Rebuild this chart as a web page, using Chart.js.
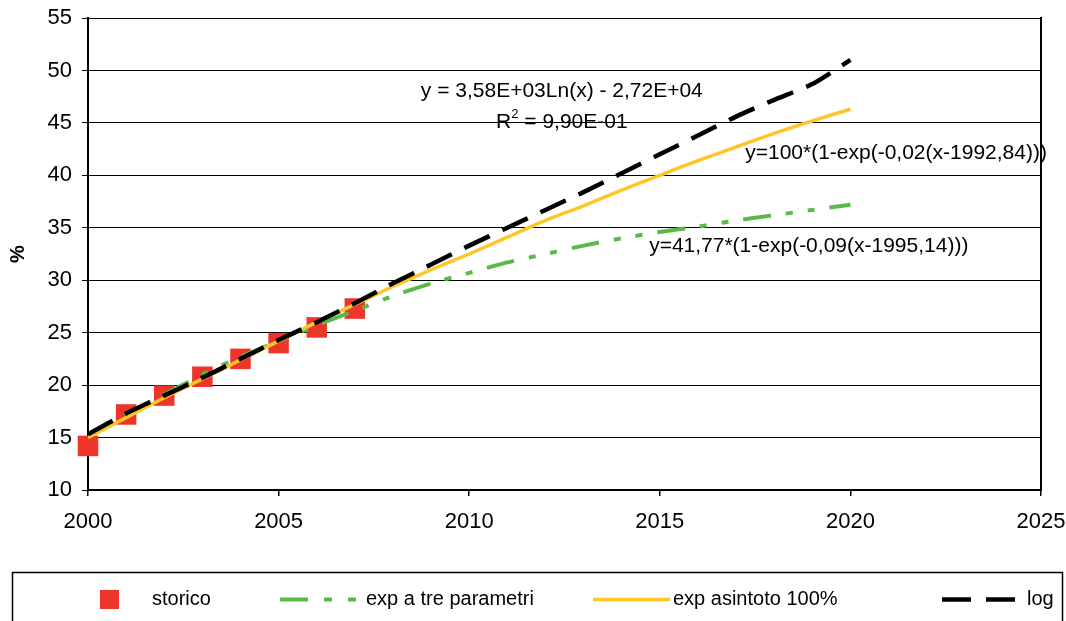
<!DOCTYPE html>
<html><head><meta charset="utf-8">
<script src="https://cdn.jsdelivr.net/npm/chart.js@4"></script>
<style>html,body{margin:0;padding:0;background:#fff}#wrap{width:1066px;height:621px;position:relative}</style>
</head><body><div id="wrap"><canvas id="c" width="1066" height="621"></canvas></div>
<script>
const years = [2000,2001,2002,2003,2004,2005,2006,2007,2008,2009,2010,2011,2012,2013,2014,2015,2016,2017,2018,2019,2020];
const storicoYears = [2000,2001,2002,2003,2004,2005,2006,2007];
const storico = [14.2,17.2,19.0,20.8,22.5,24.0,25.5,27.3];
const expTre = [15.0,17.2,19.1,21.0,22.7,24.2,25.7,27.1,28.5,29.7,30.7,31.7,32.5,33.3,34.0,34.6,35.1,35.7,36.2,36.7,37.2];
const expAsintoto = [15.0,16.9,18.8,20.6,22.4,24.2,26.0,27.7,29.4,31.0,32.5,34.1,35.7,37.1,38.6,40.0,41.4,42.7,44.0,45.2,46.3];
const logFit = [15.3,17.3,19.0,20.7,22.5,24.3,26.0,27.8,29.7,31.5,33.3,35.0,36.7,38.4,40.2,42.0,43.8,45.6,47.2,48.7,51.0];
const xTicks = [2000,2005,2010,2015,2020,2025];
const yTicks = [10,15,20,25,30,35,40,45,50,55];
const legendLabels = ["storico","exp a tre parametri","exp asintoto 100%","log"];
const annotations = [
  {text:"y = 3,58E+03Ln(x) - 2,72E+04", x:2012.43, y:48.0, align:"center"},
  {text:"R2 = 9,90E-01", x:2012.43, y:45.1, align:"center", sup:true},
  {text:"y=100*(1-exp(-0,02(x-1992,84)))", x:2017.24, y:42.1, align:"left"},
  {text:"y=41,77*(1-exp(-0,09(x-1995,14)))", x:2014.72, y:33.2, align:"left"}
];
const FONT = "'Liberation Sans', Arial, sans-serif";
const pts = (xs, ys) => xs.map((x,i)=>({x:x,y:ys[i]}));

const legendPlugin = {
  id:'customLegend',
  afterDraw(chart){
    const ctx = chart.ctx;
    ctx.save();
    ctx.strokeStyle = '#000'; ctx.lineWidth = 1.5;
    ctx.strokeRect(12.5, 572.5, 1050, 70);
    const cy = 599.5;
    ctx.font = "20px " + FONT; ctx.fillStyle = '#000'; ctx.textBaseline = 'middle'; ctx.textAlign='left';
    const ds = chart.data.datasets;
    ctx.fillStyle = ds[0].backgroundColor; ctx.fillRect(100, 590, 19, 19);
    ctx.fillStyle = '#000'; ctx.fillText(legendLabels[0], 152, cy);
    const line = (x1,x2,d,dash) => {ctx.beginPath(); ctx.strokeStyle=d.borderColor; ctx.lineWidth=d.borderWidth; ctx.setLineDash(dash||[]); ctx.moveTo(x1,cy); ctx.lineTo(x2,cy); ctx.stroke(); ctx.setLineDash([]);};
    line(280, 357, ds[1], [28,16,8,16,8,16]);
    ctx.fillText(legendLabels[1], 366, cy);
    line(593, 670, ds[2]);
    ctx.fillText(legendLabels[2], 673, cy);
    line(942, 1016, ds[3], [29,15]);
    ctx.fillText(legendLabels[3], 1027, cy);
    ctx.restore();
  }
};
const annPlugin = {
  id:'ann',
  afterDraw(chart){
    const ctx = chart.ctx, xs = chart.scales.x, ys = chart.scales.y;
    const F = "21px " + FONT, FS = "13px " + FONT;
    ctx.save(); ctx.font = F; ctx.fillStyle='#000'; ctx.textBaseline='middle';
    annotations.forEach(a=>{
      const px = xs.getPixelForValue(a.x), py = ys.getPixelForValue(a.y);
      if (a.sup){
        const rest = a.text.slice(2);
        ctx.font = F; const wR = ctx.measureText("R").width, wRest = ctx.measureText(rest).width;
        ctx.font = FS; const w2 = ctx.measureText("2").width;
        const total = wR + w2 + wRest; let x0 = px - total/2;
        ctx.textAlign='left';
        ctx.font = F; ctx.fillText("R", x0, py);
        ctx.font = FS; ctx.fillText("2", x0+wR, py-7);
        ctx.font = F; ctx.fillText(rest, x0+wR+w2, py);
      } else {
        ctx.font = F; ctx.textAlign = a.align; ctx.fillText(a.text, px, py);
      }
    });
    ctx.restore();
  }
};
const noPad = s => { s.paddingTop = 0; s.paddingBottom = 0; s.paddingLeft = 0; s.paddingRight = 0; };

new Chart(document.getElementById('c'), {
  type:'line',
  data:{datasets:[
    {label:legendLabels[0], data:pts(storicoYears, storico), showLine:false, pointStyle:'rect', pointRadius:14.5, pointHoverRadius:14.5, backgroundColor:'#EE3529', borderColor:'#EE3529', borderWidth:0, order:4, clip:false},
    {label:legendLabels[1], data:pts(years, expTre), borderColor:'#5CB848', borderWidth:4, borderDash:[28,15,7,15,7,15], pointRadius:0, tension:0.2, fill:false, order:3},
    {label:legendLabels[2], data:pts(years, expAsintoto), borderColor:'#FFC629', borderWidth:3.5, pointRadius:0, tension:0.2, fill:false, order:2},
    {label:legendLabels[3], data:pts(years, logFit), borderColor:'#000', borderWidth:4.5, borderDash:[28,14], pointRadius:0, tension:0.2, fill:false, order:1}
  ]},
  options:{
    responsive:false, animation:false, events:[],
    layout:{padding:{top:18,right:25,left:0,bottom:0}},
    plugins:{legend:{display:false}, tooltip:{enabled:false}},
    scales:{
      x:{type:'linear', min:2000, max:2025,
        afterFit(s){ s.height = 131; noPad(s); },
        afterBuildTicks(s){ s.ticks = xTicks.map(v=>({value:v})); },
        ticks:{callback:v=>String(v), font:{size:22, family:FONT}, color:'#000', padding:13, maxRotation:0},
        grid:{drawOnChartArea:false, drawTicks:true, tickLength:6, color:'#000', lineWidth:1.5},
        border:{display:true, color:'#000', width:2}
      },
      y:{min:10, max:55,
        afterFit(s){ s.width = 88; noPad(s); },
        afterBuildTicks(s){ s.ticks = yTicks.map(v=>({value:v})); },
        ticks:{font:{size:22, family:FONT}, color:'#000', padding:10},
        grid:{color:'#000', lineWidth:1, tickLength:6},
        border:{display:true, color:'#000', width:2},
        title:{display:true, text:'%', font:{size:20, weight:'bold', family:FONT}, color:'#000', padding:{top:6,bottom:0}}
      },
      y2:{position:'right', min:10, max:55, afterFit(s){ s.width = 0; noPad(s); },
        ticks:{display:false}, grid:{drawOnChartArea:false, drawTicks:false},
        border:{display:true, color:'#000', width:2}}
    }
  },
  plugins:[legendPlugin, annPlugin]
});
</script></body></html>
